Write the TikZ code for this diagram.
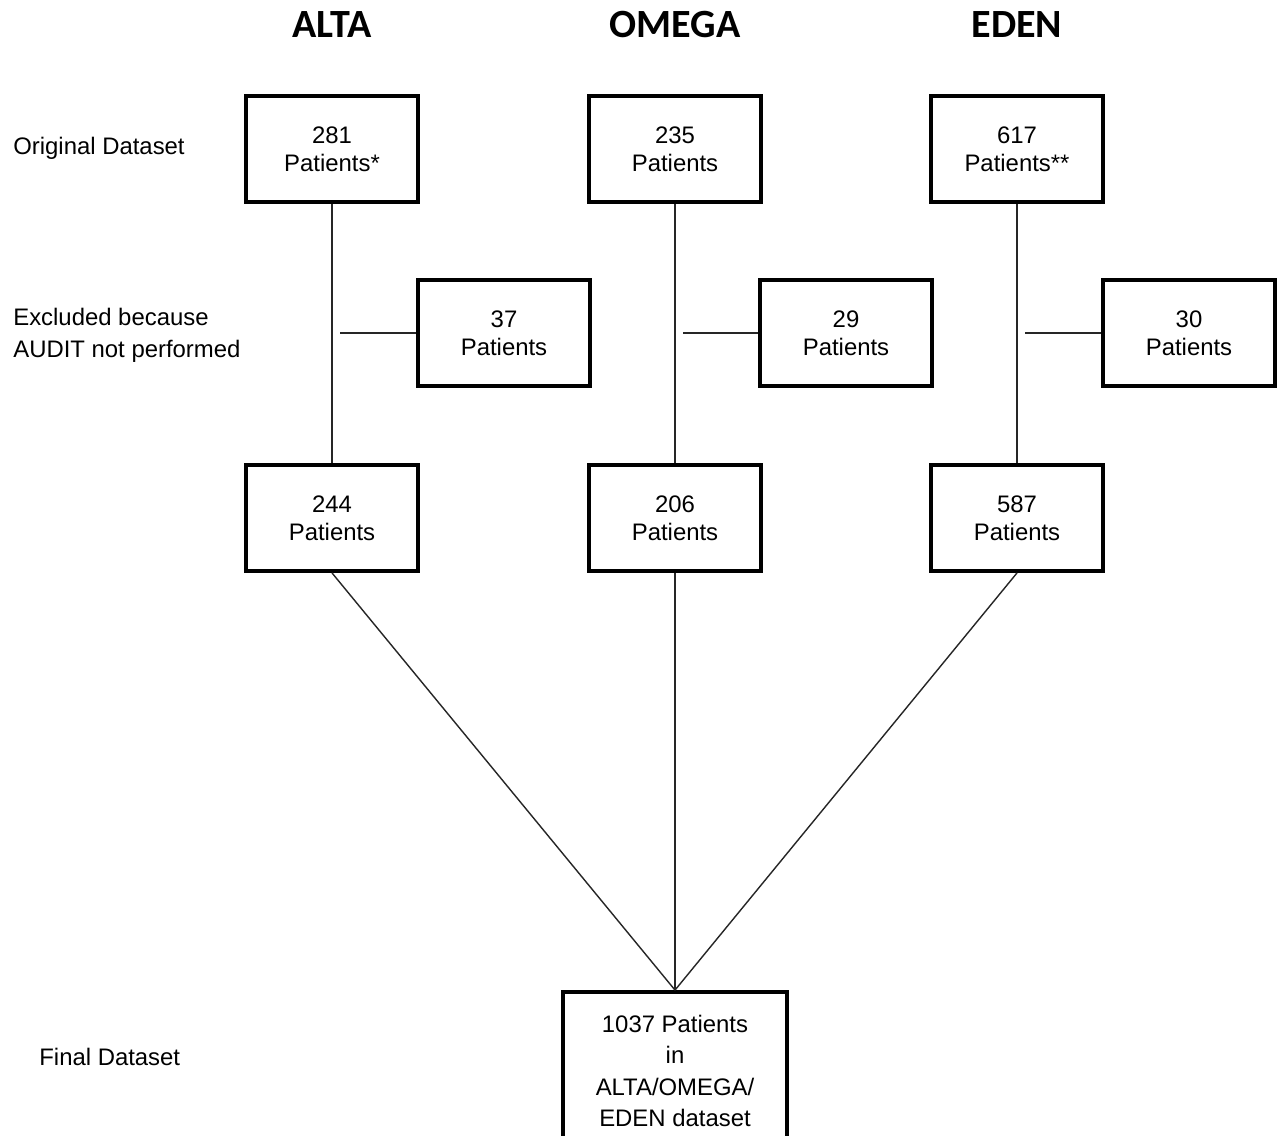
\documentclass[tikz,border=0pt]{standalone}
\usepackage{fontspec}
\setmainfont{Liberation Sans}
\newfontfamily\headfont{Carlito}
\begin{document}
\begin{tikzpicture}[x=0.02cm,y=-0.02cm,
  box/.style={draw=black,line width=2.2pt,minimum width=3.44cm,minimum height=2.12cm,align=center,inner sep=0pt,font=\fontsize{13.6}{15.9}\selectfont},
  conn/.style={draw=black!85,line width=0.8pt},
  head/.style={font=\headfont\bfseries\fontsize{22.8}{26}\selectfont,inner sep=0pt},
  lab/.style={font=\fontsize{13.6}{18.2}\selectfont,align=left,anchor=west,inner sep=0pt}]
\clip (0,0) rectangle (1280,1135);
\fill[white] (0,0) rectangle (1280,1135);
% headings
\node[head] (hA) at (332,25) {ALTA};
\node[head] (hO) at (675,25) {OMEGA};
\node[head] (hE) at (1017,25) {EDEN};
% left labels
\node[lab] (l1) at (13,148) {Original Dataset};
\node[lab] (l2) at (13,335) {Excluded because\\AUDIT not performed};
\node[lab] (l3) at (39,1057) {Final Dataset};
% top boxes
\node[box] (tA) at (332,149) {281\\Patients*};
\node[box] (tO) at (675,149) {235\\Patients};
\node[box] (tE) at (1017,149) {617\\Patients**};
% excluded boxes
\node[box] (xA) at (504,333) {37\\Patients};
\node[box] (xO) at (846,333) {29\\Patients};
\node[box] (xE) at (1189,333) {30\\Patients};
% middle boxes
\node[box] (mA) at (332,518) {244\\Patients};
\node[box] (mO) at (675,518) {206\\Patients};
\node[box] (mE) at (1017,518) {587\\Patients};
% final box
\node[box,minimum width=4.48cm,minimum height=3.16cm,font=\fontsize{13.6}{17.9}\selectfont] (fin) at (675,1071) {1037 Patients\\in\\ALTA/OMEGA/\\EDEN dataset};
% connectors
\draw[conn] (tA) -- (mA);
\draw[conn] (tO) -- (mO);
\draw[conn] (tE) -- (mE);
\coordinate (jA) at (340,333);
\coordinate (jO) at (683,333);
\coordinate (jE) at (1025,333);
\draw[conn] (jA) -- (xA.west);
\draw[conn] (jO) -- (xO.west);
\draw[conn] (jE) -- (xE.west);
\draw[conn] (mA.south) -- (fin.north);
\draw[conn] (mO.south) -- (fin.north);
\draw[conn] (mE.south) -- (fin.north);
\end{tikzpicture}
\end{document}
